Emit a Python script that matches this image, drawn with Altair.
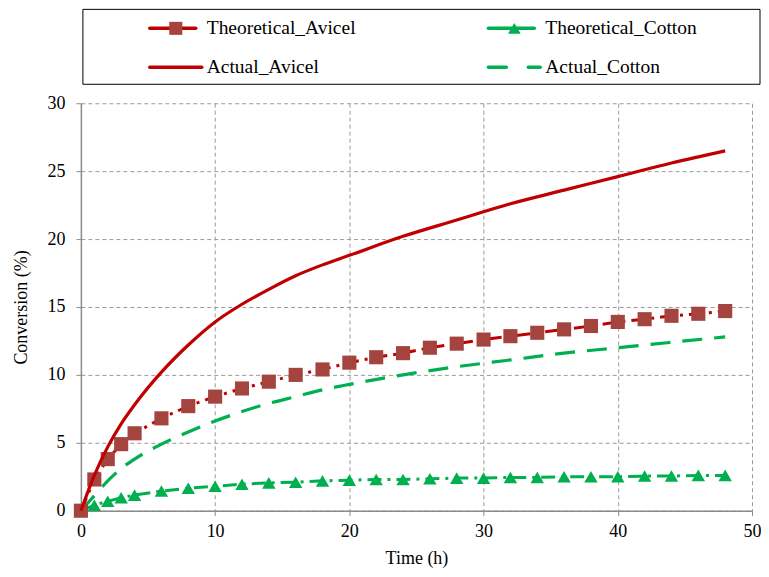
import altair as alt
import pandas as pd

# ---------------- data ----------------
t_theo = [0, 1, 2, 3, 4, 6, 8, 10, 12, 14, 16, 18, 20, 22, 24, 26, 28, 30, 32, 34, 36, 38, 40, 42, 44, 46, 48]
theo_avicel = [0, 2.3, 3.8, 4.9, 5.7, 6.8, 7.7, 8.4, 9.0, 9.5, 10.0, 10.4, 10.9, 11.3, 11.6, 12.0, 12.3,
               12.6, 12.85, 13.1, 13.35, 13.6, 13.9, 14.1, 14.35, 14.5, 14.7]
theo_cotton = [0, 0.4, 0.7, 0.95, 1.15, 1.45, 1.65, 1.8, 1.95, 2.05, 2.1, 2.2, 2.25, 2.3, 2.3, 2.35, 2.4,
               2.4, 2.45, 2.45, 2.5, 2.5, 2.5, 2.55, 2.55, 2.6, 2.6]

t_act = [0, 1, 2, 3, 4, 6, 8, 10, 12, 14, 16, 18, 20, 24, 28, 32, 36, 40, 44, 48]
act_avicel = [0, 2.6, 4.7, 6.4, 7.8, 10.2, 12.2, 13.9, 15.2, 16.3, 17.3, 18.1, 18.8, 20.2, 21.4, 22.6,
              23.6, 24.6, 25.6, 26.5]
act_cotton = [0, 1.1, 2.2, 3.1, 3.8, 4.9, 5.8, 6.6, 7.3, 7.9, 8.4, 8.9, 9.3, 10.0, 10.6, 11.1, 11.6,
              12.0, 12.4, 12.8]

series_names = ["Theoretical_Avicel", "Theoretical_Cotton", "Actual_Avicel", "Actual_Cotton"]

x_ticks = [0, 10, 20, 30, 40, 50]
y_ticks = [0, 5, 10, 15, 20, 25, 30]

# ---------------- styles ----------------
RED = "#C00000"
SQ = "#A5443F"
GREEN = "#00B050"
FONT = "Liberation Serif"
DASHDOT = [14, 6, 3, 6]
DASH = [20, 12]
PAD_LEFT = 5

df_theo = pd.DataFrame({"t": t_theo, "avicel": theo_avicel, "cotton": theo_cotton})
df_act = pd.DataFrame({"t": t_act, "avicel": act_avicel, "cotton": act_cotton})

xenc = alt.X("t:Q", scale=alt.Scale(domain=[0, 50]),
             axis=alt.Axis(values=x_ticks, title="Time (h)", titlePadding=9, labelPadding=7,
                           labelFlush=False))


def yenc(field):
    return alt.Y(f"{field}:Q", scale=alt.Scale(domain=[0, 30]),
                 axis=alt.Axis(values=y_ticks, title="Conversion (%)", titlePadding=16, labelPadding=11,
                               labelFlush=False))


base_act = alt.Chart(df_act)
base_theo = alt.Chart(df_theo)

l_act_av = base_act.mark_line(color=RED, strokeWidth=3.2, interpolate="monotone").encode(x=xenc, y=yenc("avicel"))
l_act_co = base_act.mark_line(color=GREEN, strokeWidth=3.2, strokeDash=DASH, interpolate="monotone").encode(x=xenc, y=yenc("cotton"))
l_th_av = base_theo.mark_line(color=RED, strokeWidth=3, strokeDash=DASHDOT).encode(x=xenc, y=yenc("avicel"))
p_th_av = base_theo.mark_point(shape="square", filled=True, color=SQ, size=200, opacity=1).encode(x=xenc, y=yenc("avicel"))
l_th_co = base_theo.mark_line(color=GREEN, strokeWidth=3, strokeDash=DASHDOT).encode(x=xenc, y=yenc("cotton"))
p_th_co = base_theo.mark_point(shape="triangle-up", filled=True, color=GREEN, size=180, opacity=1).encode(x=xenc, y=yenc("cotton"))

main = alt.layer(l_act_co, l_th_co, p_th_co, l_th_av, p_th_av, l_act_av).properties(width=672, height=408)

# ---------------- legend panel ----------------
LEG_W = 680
box = pd.DataFrame({"bx0": [2], "bx1": [LEG_W], "by0": [0], "by1": [75]})

leg = pd.DataFrame({"label": series_names})
leg["col"] = [0, 1, 0, 1]
leg["row"] = [0, 0, 1, 1]
leg["x0"] = 69 + leg["col"] * 339
leg["x1"] = leg["x0"] + 46
leg["xm"] = leg["x0"] + 26
leg["xt"] = leg["x0"] + 57
leg["y"] = 19 + leg["row"] * 39
leg.loc[leg["label"] == "Actual_Avicel", "x1"] = leg["x0"] + 52
leg.loc[leg["label"] == "Actual_Cotton", "x1"] = leg["x0"] + 52

lb = alt.Chart(leg)
X0 = alt.X("x0:Q", scale=None, axis=None)
X1 = alt.X2("x1:Q")
XM = alt.X("xm:Q", scale=None, axis=None)
XT = alt.X("xt:Q", scale=None, axis=None)
YY = alt.Y("y:Q", scale=None, axis=None)


def only(name):
    return alt.datum.label == name


frame = alt.Chart(box).mark_rect(fill="white", stroke="black", strokeWidth=1).encode(
    x=alt.X("bx0:Q", scale=None, axis=None), x2="bx1:Q",
    y=alt.Y("by0:Q", scale=None, axis=None), y2="by1:Q",
)

leg_layers = [
    frame,
    lb.transform_filter(only("Theoretical_Avicel")).mark_rule(color=RED, strokeWidth=3.5, strokeCap="round").encode(x=X0, x2=X1, y=YY),
    lb.transform_filter(only("Theoretical_Avicel")).mark_point(shape="square", filled=True, color=SQ, size=170, opacity=1).encode(x=XM, y=YY),
    lb.transform_filter(only("Theoretical_Cotton")).mark_rule(color=GREEN, strokeWidth=3.5, strokeCap="round").encode(x=X0, x2=X1, y=YY),
    lb.transform_filter(only("Theoretical_Cotton")).mark_point(shape="triangle-up", filled=True, color=GREEN, size=160, opacity=1).encode(x=XM, y=YY),
    lb.transform_filter(only("Actual_Avicel")).mark_rule(color=RED, strokeWidth=3.5, strokeCap="round").encode(x=X0, x2=X1, y=YY),
    lb.transform_filter(only("Actual_Cotton")).mark_rule(color=GREEN, strokeWidth=3.5, strokeDash=[18, 22], strokeCap="round").encode(x=X0, x2=X1, y=YY),
    lb.mark_text(align="left", baseline="middle", font=FONT, fontSize=19.5, color="black").encode(x=XT, y=YY, text="label:N"),
]

legend_panel = alt.layer(*leg_layers).properties(width=LEG_W, height=75)

chart = alt.vconcat(legend_panel, main, spacing=9).configure(
    background="white",
    padding={"left": PAD_LEFT, "top": 0, "right": 0, "bottom": 0},
).configure_view(stroke=None).configure_axis(
    labelFont=FONT, labelFontSize=18, labelColor="black",
    titleFont=FONT, titleFontSize=18, titleFontWeight="normal", titleColor="black",
    domainColor="#8c8c8c", tickColor="#8c8c8c", tickSize=5, domainWidth=1.5,
    gridColor="#9a9a9a", gridDash=[4, 3], gridWidth=1,
)

chart.save("out.html", embed_options={"renderer": "svg", "actions": False})
